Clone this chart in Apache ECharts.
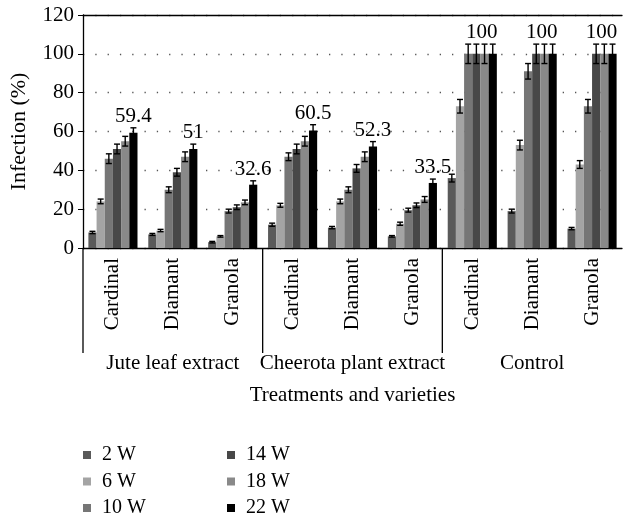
<!DOCTYPE html>
<html>
<head>
<meta charset="utf-8">
<script src="https://cdn.jsdelivr.net/npm/echarts@6/dist/echarts.min.js"></script>
<style>
html,body{margin:0;padding:0;background:#fff;}
#chart{width:624px;height:520px;}
</style>
</head>
<body>
<div id="chart"></div>
<script>
// ---- data ----
const varieties = ['Cardinal','Diamant','Granola','Cardinal','Diamant','Granola','Cardinal','Diamant','Granola'];
const groups = ['Jute leaf extract','Cheerota plant extract','Control'];
const groupSize = [3,3,3];
const seriesNames = ['2 W','6 W','10 W','14 W','18 W','22 W'];
const yTicks = [0,20,40,60,80,100,120];

const v2W  = [8, 7, 3, 12, 10.5, 6, 36, 19, 10];
const v6W  = [24, 9, 6, 22, 24, 12.5, 73, 53, 43];
const v10W = [46, 30, 19, 47, 30, 19.5, 100, 91, 73];
const v14W = [51, 39, 21, 51, 41, 22, 100, 100, 100];
const v18W = [55, 47, 23.5, 55, 47, 25, 100, 100, 100];
const v22W = [59.4, 51, 32.6, 60.5, 52.3, 33.5, 100, 100, 100];

const e2W  = [0.6, 0.5, 0.4, 0.8, 0.6, 0.4, 2, 1, 0.6];
const e6W  = [1.2, 0.6, 0.4, 1, 1.2, 0.8, 3.5, 2.5, 2];
const e10W = [2.5, 1.5, 1, 2, 1.5, 1, 5, 4, 3.5];
const e14W = [2.5, 2, 1.2, 2.5, 2, 1.2, 5, 5, 5];
const e18W = [2.5, 2.5, 1.2, 2.5, 2.5, 1.5, 5, 5, 5];
const e22W = [2.5, 2.5, 2, 3, 2.5, 2, 5, 5, 5];

const colors = ['#5a5a5a','#a4a4a4','#767676','#484848','#898989','#000000'];

const values = [v2W, v6W, v10W, v14W, v18W, v22W];
const errors = [e2W, e6W, e10W, e14W, e18W, e22W];

const FONT = 'Liberation Serif';
const FS = 21;
const CAT_GAP = 0.18;

const chart = echarts.init(document.getElementById('chart'));

const series = seriesNames.map((n, k) => ({
  name: n,
  type: 'bar',
  data: values[k],
  barGap: '0%',
  barCategoryGap: (CAT_GAP * 100) + '%',
  itemStyle: { color: colors[k] },
  silent: true
}));

// error bars + labels
const errData = [];
values.forEach((arr, k) => arr.forEach((v, i) => errData.push([i, v, errors[k][i], k])));
series.push({
  type: 'custom',
  z: 10,
  silent: true,
  clip: false,
  data: errData,
  encode: { x: 0, y: 1 },
  renderItem: function (params, api) {
    const cat = api.value(0), val = api.value(1), err = api.value(2), k = api.value(3);
    const c = api.coord([cat, val]);
    const band = api.size([1, 0])[0];
    const used = band * (1 - CAT_GAP);
    const bw = used / seriesNames.length;
    const x = c[0] - used / 2 + bw * (k + 0.5);
    const yT = api.coord([cat, val + err])[1];
    const yB = api.coord([cat, val - err])[1];
    const cap = 3;
    const st = { stroke: '#000', lineWidth: 1.4 };
    const children = [
      { type: 'line', shape: { x1: x, y1: yT, x2: x, y2: yB }, style: st },
      { type: 'line', shape: { x1: x - cap, y1: yT, x2: x + cap, y2: yT }, style: st },
      { type: 'line', shape: { x1: x - cap, y1: yB, x2: x + cap, y2: yB }, style: st }
    ];
    if (k === seriesNames.length - 1) {
      children.push({
        type: 'text',
        style: {
          x: x + (val >= 100 ? -11 : 0), y: yT - 1,
          text: String(val), fill: '#000',
          font: FS + 'px "' + FONT + '"',
          align: 'center', verticalAlign: 'bottom'
        }
      });
    }
    return { type: 'group', children: children };
  }
});

// group separators
const sepData = [];
let start = 0;
groupSize.forEach(s => { sepData.push([start, 0]); start += s; });
series.push({
  type: 'custom',
  silent: true,
  clip: false,
  z: 10,
  data: sepData,
  encode: { x: 0, y: 1 },
  renderItem: function (params, api) {
    const c = api.coord([api.value(0), 0]);
    const band = api.size([1, 0])[0];
    const x = c[0] - band / 2;
    return { type: 'line', shape: { x1: x, y1: c[1], x2: x, y2: c[1] + 105 }, style: { stroke: '#000', lineWidth: 1.3 } };
  }
});

const legendCommon = {
  orient: 'vertical',
  top: 445,
  height: 75,
  padding: 0,
  itemWidth: 8,
  itemHeight: 8,
  itemGap: 6.5,
  icon: 'rect',
  selectedMode: false,
  textStyle: { fontFamily: FONT, fontSize: 20, lineHeight: 20, color: '#000', padding: [0, 0, 0, 6] }
};

chart.setOption({
  animation: false,
  textStyle: { fontFamily: FONT },
  grid: { left: 82, right: 2, top: 15, bottom: 272 },
  legend: [
    Object.assign({}, legendCommon, { left: 83, data: seriesNames.slice(0, 3) }),
    Object.assign({}, legendCommon, { left: 227, data: seriesNames.slice(3) })
  ],
  xAxis: [
    {
      type: 'category', data: varieties, position: 'bottom',
      axisLine: { lineStyle: { color: '#000', width: 1.3 } },
      axisTick: { show: false },
      axisLabel: { rotate: 90, margin: 10, interval: 0, fontSize: FS, color: '#000', fontFamily: FONT }
    },
    {
      type: 'category', data: groups, position: 'bottom',
      axisLine: { show: false }, axisTick: { show: false },
      axisLabel: { margin: 105, interval: 0, fontSize: FS, color: '#000', fontFamily: FONT },
      name: 'Treatments and varieties', nameLocation: 'middle', nameGap: 137,
      nameTextStyle: { fontSize: FS, color: '#000', fontFamily: FONT }
    },
    {
      type: 'category', data: varieties, position: 'top',
      axisLine: { lineStyle: { color: '#000', width: 1.3 } },
      axisTick: { show: false }, axisLabel: { show: false }
    }
  ],
  yAxis: {
    type: 'value', min: yTicks[0], max: yTicks[yTicks.length - 1], interval: yTicks[1] - yTicks[0],
    axisLine: { show: true, lineStyle: { color: '#000', width: 1.3 } },
    axisTick: { show: true, length: 5, lineStyle: { color: '#000' } },
    axisLabel: { margin: 9, fontSize: FS, color: '#000', fontFamily: FONT },
    splitLine: { show: true, lineStyle: { color: '#555', width: 1.3, type: [1.3, 11] } },
    name: 'Infection (%)', nameLocation: 'middle', nameGap: 53,
    nameTextStyle: { fontSize: 22, color: '#000', fontFamily: FONT }
  },
  series: series
});
</script>
</body>
</html>
